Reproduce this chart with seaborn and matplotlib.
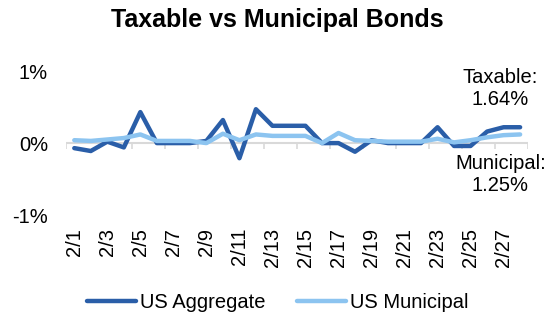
import numpy as np
import pandas as pd
import matplotlib
matplotlib.use("Agg")
import matplotlib.pyplot as plt
import seaborn as sns

dates = [f"2/{d}" for d in range(1, 29)]
us_aggregate = [-0.07, -0.11, 0.02, -0.06, 0.43, 0.0, 0.0, 0.0, 0.03, 0.32,
                -0.21, 0.47, 0.24, 0.24, 0.24, 0.0, 0.0, -0.12, 0.04, 0.0,
                0.0, 0.0, 0.22, -0.04, -0.04, 0.16, 0.22, 0.22]
us_municipal = [0.04, 0.03, 0.05, 0.07, 0.12, 0.03, 0.03, 0.03, 0.0, 0.13,
                0.04, 0.12, 0.10, 0.10, 0.10, 0.0, 0.14, 0.04, 0.03, 0.02,
                0.02, 0.02, 0.06, 0.01, 0.04, 0.08, 0.11, 0.12]
series_names = ["US Aggregate", "US Municipal"]
colors = ["#2A5EA8", "#8CC4F0"]
title = "Taxable vs Municipal Bonds"
ann_taxable = "Taxable:\n1.64%"
ann_muni = "Municipal:\n1.25%"

sns.set_theme(style="white")
plt.rcParams['font.family'] = ['Liberation Sans', 'DejaVu Sans']
plt.rcParams['text.color'] = 'black'
plt.rcParams['xtick.color'] = 'black'
plt.rcParams['ytick.color'] = 'black'

FS = 14.5

df = pd.DataFrame({
    "idx": list(range(len(dates))) * 2,
    "value": us_aggregate + us_municipal,
    "series": [series_names[0]] * len(dates) + [series_names[1]] * len(dates),
})

fig = plt.figure(figsize=(5.55, 3.32), dpi=100)
ax = fig.add_axes([0.119, 0.352, 0.833, 0.434])

# zero line and tick marks
ax.axhline(0, color="#D9D9D9", lw=1.5, zorder=0)
n = len(dates)
bounds = np.arange(-0.5, n, 2)
ax.vlines(bounds, -0.08, 0, color="#D9D9D9", lw=1.2, zorder=0)

sns.lineplot(data=df, x="idx", y="value", hue="series", hue_order=series_names,
             palette=colors, linewidth=3.2, ax=ax, legend=True)

ax.set_xlim(-0.5, n - 0.5)
ax.set_ylim(-1, 1)
ax.set_yticks([-1, 0, 1])
ax.set_yticklabels(["-1%", "0%", "1%"], fontsize=FS)
ax.set_xticks(range(0, n, 2))
ax.set_xticklabels(dates[::2], rotation=90, fontsize=FS)
ax.tick_params(axis="x", length=0, pad=9)
ax.tick_params(axis="y", length=0, pad=13)
ax.set_xlabel("")
ax.set_ylabel("")
for s in ax.spines.values():
    s.set_visible(False)

fig.suptitle(title, x=0.5, y=0.94, va="center", fontsize=18,
             fontweight="bold", color="black")

ax.text(25.8, 0.757, ann_taxable, ha="center", va="center", fontsize=FS)
ax.text(25.8, -0.44, ann_muni, ha="center", va="center", fontsize=FS)

handles, labels = ax.get_legend_handles_labels()
ax.legend(handles, labels, loc="center", bbox_to_anchor=(0.5, 0.09),
          bbox_transform=fig.transFigure, ncol=2, frameon=False, fontsize=FS,
          handlelength=2.45, columnspacing=1.55, handletextpad=0.2)

fig.savefig("out.png", dpi=100)
